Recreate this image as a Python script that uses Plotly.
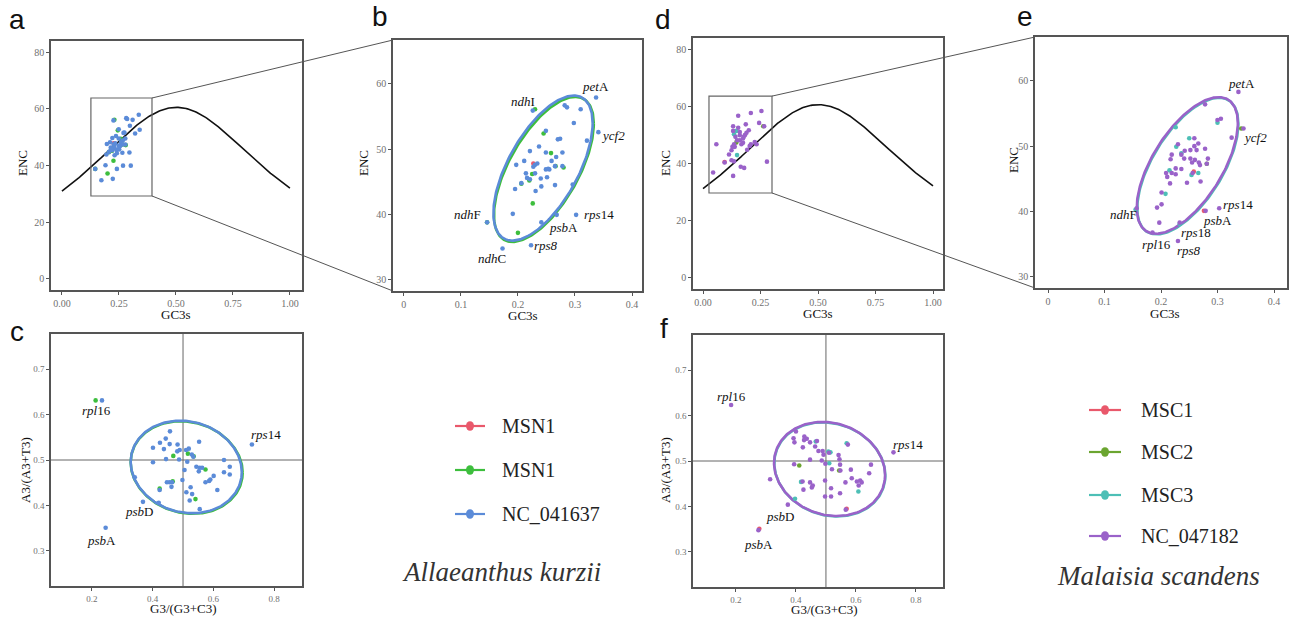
import numpy as np
import plotly.graph_objects as go

W, H = 1295, 618

# ============================ DATA ============================
# --- Allaeanthus kurzii : ENC vs GC3s (panels a and b) ---
ak_nc_gc3s = [0.337, 0.341, 0.302, 0.241, 0.223, 0.173, 0.146, 0.226, 0.191, 0.268,
              0.296, 0.321, 0.310, 0.298, 0.282, 0.286, 0.249, 0.237, 0.221, 0.274,
              0.249, 0.278, 0.267, 0.259, 0.278, 0.265, 0.255, 0.249, 0.227, 0.234,
              0.230, 0.211, 0.197, 0.214, 0.230, 0.240, 0.251, 0.221, 0.216, 0.206,
              0.195, 0.231, 0.241, 0.265, 0.253, 0.270]
ak_nc_enc = [57.9, 52.6, 39.95, 38.8, 35.3, 34.8, 38.8, 55.9, 40.1, 39.95,
             44.6, 51.3, 56.1, 54.0, 56.7, 56.4, 52.8, 50.4, 49.7, 51.6,
             49.5, 49.5, 48.8, 48.2, 47.4, 47.4, 46.9, 46.9, 47.3, 47.8,
             47.6, 48.2, 47.6, 46.3, 46.3, 45.5, 45.7, 45.4, 45.6, 44.8,
             43.9, 43.6, 44.3, 44.5, 47.0, 51.5]
ak_msn1b_gc3s = [0.230, 0.245, 0.258, 0.280, 0.225, 0.220, 0.206, 0.226, 0.200, 0.146, 0.266]
ak_msn1b_enc = [56.1, 52.4, 49.4, 47.2, 46.2, 45.2, 44.7, 41.7, 37.2, 38.8, 47.4]
ak_msn1a_gc3s = [0.227]
ak_msn1a_enc = [47.8]

# --- Allaeanthus kurzii : PR2 plot (panel c) ---
ak_nc_g3 = [0.233, 0.727, 0.245, 0.368, 0.420, 0.341, 0.401, 0.401, 0.424, 0.437,
            0.443, 0.457, 0.456, 0.482, 0.481, 0.489, 0.444, 0.487, 0.505, 0.498,
            0.447, 0.456, 0.464, 0.462, 0.423, 0.514, 0.519, 0.510, 0.529, 0.534,
            0.553, 0.544, 0.552, 0.555, 0.563, 0.511, 0.525, 0.530, 0.522, 0.555,
            0.574, 0.586, 0.601, 0.590, 0.613, 0.635, 0.635, 0.654, 0.654]
ak_nc_a3 = [0.631, 0.534, 0.351, 0.408, 0.406, 0.462, 0.527, 0.495, 0.538, 0.524,
            0.547, 0.563, 0.535, 0.534, 0.519, 0.522, 0.502, 0.501, 0.478, 0.456,
            0.451, 0.451, 0.451, 0.441, 0.434, 0.496, 0.525, 0.522, 0.512, 0.507,
            0.540, 0.485, 0.475, 0.483, 0.483, 0.429, 0.440, 0.425, 0.411, 0.392,
            0.451, 0.454, 0.465, 0.457, 0.434, 0.500, 0.473, 0.485, 0.468]
ak_msn1b_g3 = [0.212, 0.468, 0.466, 0.423, 0.516, 0.574, 0.541, 0.535]
ak_msn1b_a3 = [0.631, 0.509, 0.453, 0.437, 0.514, 0.479, 0.414, 0.508]

# --- Malaisia scandens : ENC vs GC3s overview (panel d) ---
ms_d_nc_gc3s = [0.044, 0.058, 0.094, 0.113, 0.131, 0.131, 0.131, 0.153, 0.141, 0.148,
                0.135, 0.128, 0.138, 0.124, 0.124, 0.135, 0.160, 0.160, 0.167, 0.174,
                0.182, 0.189, 0.199, 0.186, 0.164, 0.179, 0.203, 0.208, 0.225, 0.233,
                0.192, 0.208, 0.244, 0.254, 0.266, 0.278, 0.174, 0.160, 0.177, 0.153]
ms_d_nc_enc = [36.7, 46.6, 40.2, 43.0, 35.5, 52.9, 51.3, 56.6, 49.2, 48.0,
               46.6, 45.7, 45.7, 44.5, 41.0, 40.6, 49.8, 48.0, 46.6, 48.6,
               49.8, 50.6, 51.5, 53.6, 38.7, 38.3, 46.0, 46.6, 47.4, 46.6,
               44.7, 57.6, 54.1, 58.3, 52.9, 40.5, 47.1, 50.9, 49.2, 52.4]
ms_d_msc3_gc3s = [0.135, 0.145, 0.148]
ms_d_msc3_enc = [50.1, 51.3, 42.8]
ms_d_msc2_gc3s = [0.145, 0.262]
ms_d_msc2_enc = [47.2, 52.9]
ms_d_msc1_gc3s = [0.094]
ms_d_msc1_enc = [40.4]

# --- Malaisia scandens : ENC vs GC3s zoom (panel e) ---
ms_nc_gc3s = [0.337, 0.346, 0.303, 0.279, 0.230, 0.185, 0.157, 0.197, 0.201, 0.193,
              0.201, 0.216, 0.209, 0.219, 0.211, 0.226, 0.236, 0.226, 0.217, 0.219,
              0.230, 0.236, 0.242, 0.241, 0.252, 0.252, 0.259, 0.259, 0.263, 0.266,
              0.260, 0.255, 0.267, 0.269, 0.256, 0.246, 0.270, 0.278, 0.283, 0.281,
              0.300, 0.306, 0.325, 0.278, 0.233]
ms_nc_enc = [58.3, 52.7, 40.5, 40.1, 35.5, 36.8, 40.5, 38.3, 41.1, 40.6,
             42.9, 44.3, 45.9, 45.9, 45.3, 45.7, 46.5, 46.6, 48.0, 48.7,
             50.3, 48.7, 49.3, 48.1, 48.1, 49.4, 51.2, 50.0, 49.4, 50.4,
             47.9, 47.5, 47.5, 47.1, 45.9, 44.4, 44.6, 49.6, 48.1, 47.3,
             54.0, 54.2, 51.3, 56.4, 38.3]
ms_msc3_gc3s = [0.155, 0.208, 0.215, 0.227, 0.236, 0.250, 0.266, 0.300, 0.226, 0.233, 0.254]
ms_msc3_enc = [40.3, 42.7, 46.3, 49.9, 48.9, 51.2, 45.9, 53.6, 52.9, 38.1, 45.6]
ms_msc2_gc3s = [0.342, 0.281]
ms_msc2_enc = [52.7, 47.3]
ms_msc1_gc3s = [0.276, 0.258]
ms_msc1_enc = [40.1, 46.1]

# --- Malaisia scandens : PR2 plot (panel f) ---
ms_nc_g3 = [0.184, 0.725, 0.275, 0.373, 0.314, 0.400, 0.392, 0.395, 0.428, 0.436,
            0.447, 0.464, 0.475, 0.489, 0.492, 0.498, 0.486, 0.447, 0.394, 0.423,
            0.427, 0.422, 0.425, 0.447, 0.453, 0.456, 0.497, 0.497, 0.517, 0.517,
            0.520, 0.542, 0.545, 0.547, 0.548, 0.547, 0.565, 0.566, 0.573, 0.583,
            0.586, 0.603, 0.609, 0.614, 0.619, 0.644, 0.650, 0.510, 0.470]
ms_nc_a3 = [0.623, 0.519, 0.348, 0.404, 0.460, 0.565, 0.550, 0.541, 0.554, 0.549,
            0.541, 0.532, 0.522, 0.522, 0.514, 0.494, 0.501, 0.503, 0.493, 0.530,
            0.546, 0.455, 0.437, 0.453, 0.442, 0.446, 0.457, 0.422, 0.440, 0.422,
            0.482, 0.513, 0.504, 0.492, 0.479, 0.429, 0.453, 0.393, 0.536, 0.481,
            0.462, 0.455, 0.446, 0.457, 0.453, 0.473, 0.492, 0.518, 0.544]
ms_msc3_g3 = [0.397, 0.466, 0.508, 0.515, 0.511, 0.417, 0.569, 0.608]
ms_msc3_a3 = [0.417, 0.543, 0.521, 0.519, 0.495, 0.454, 0.539, 0.433]
ms_msc2_g3 = [0.411, 0.544]
ms_msc2_a3 = [0.490, 0.479]
ms_msc1_g3 = [0.278, 0.569]
ms_msc1_a3 = [0.351, 0.395]

# --- ellipse parameters: centre x, centre y, half-range x, half-range y, correlation ---
ell_b_nc = (0.244, 47.1, 0.087, 11.1, 0.62)
ell_b_msn1 = (0.2455, 46.9, 0.0875, 11.1, 0.63)
ell_c_nc = (0.5106, 0.4847, 0.183, 0.1018, -0.11)
ell_c_msn1 = (0.512, 0.4835, 0.1845, 0.1018, -0.11)
ell_e_nc = (0.2465, 47.05, 0.0895, 10.45, 0.62)
ell_e_msc3 = (0.2475, 46.95, 0.0895, 10.45, 0.62)
ell_f_nc = (0.512, 0.4825, 0.185, 0.1035, -0.13)
ell_f_msc3 = (0.513, 0.4815, 0.185, 0.1035, -0.13)

# --- legend labels and species ---
ak_series = ["MSN1", "MSN1", "NC_041637"]
ms_series = ["MSC1", "MSC2", "MSC3", "NC_047182"]
ak_species = "Allaeanthus kurzii"
ms_species = "Malaisia scandens"

# gene labels: (html text, x, y)
labels_b = [("<i>pet</i>A", 0.3356, 59.59), ("<i>ndh</i>I", 0.2093, 57.29),
            ("<i>ycf2</i>", 0.3672, 52.14), ("<i>rps</i>14", 0.3427, 39.96),
            ("<i>psb</i>A", 0.2795, 37.99), ("<i>rps8</i>", 0.2491, 35.22),
            ("<i>ndh</i>C", 0.1539, 33.28), ("<i>ndh</i>F", 0.1123, 40.08)]
labels_e = [("<i>pet</i>A", 0.3428, 59.66), ("<i>ycf2</i>", 0.3664, 51.39),
            ("<i>rps</i>14", 0.3370, 41.15), ("<i>psb</i>A", 0.2997, 38.7),
            ("<i>rps</i>18", 0.2615, 36.75), ("<i>rps8</i>", 0.2501, 34.0),
            ("<i>rpl</i>16", 0.1924, 35.02), ("<i>ndh</i>F", 0.1333, 39.51)]
labels_c = [("<i>rpl</i>16", 0.2155, 0.6084), ("<i>rps</i>14", 0.7737, 0.5571),
            ("<i>psb</i>D", 0.3559, 0.3864), ("<i>psb</i>A", 0.2320, 0.3226)]
labels_f = [("<i>rpl</i>16", 0.1857, 0.6429), ("<i>rps</i>14", 0.7723, 0.5352),
            ("<i>psb</i>D", 0.3467, 0.3769), ("<i>psb</i>A", 0.2767, 0.3169)]

# ============================ STYLE ============================
RED = "#E9586B"
GREEN_AK = "#3DBE3D"
BLUE = "#5B8BD8"
GREEN_MS = "#6BA530"
TEAL = "#4DBFB6"
PURPLE = "#9A62C9"
SERIF = "Liberation Serif"
SANS = "Liberation Sans"

# panel pixel boxes (left, top, right, bottom) and axis settings
P = {
    "a": dict(n=1, box=(51, 41, 302, 290), xr=[-0.048, 1.053], yr=[-3.9, 83.9],
              xt=[0, 0.25, 0.5, 0.75, 1.0], xtt=["0.00", "0.25", "0.50", "0.75", "1.00"],
              yt=[0, 20, 40, 60, 80], ytt=["0", "20", "40", "60", "80"]),
    "b": dict(n=2, box=(393, 40, 642, 291), xr=[-0.019, 0.4175], yr=[28.3, 66.7],
              xt=[0, 0.1, 0.2, 0.3, 0.4], xtt=["0", "0.1", "0.2", "0.3", "0.4"],
              yt=[30, 40, 50, 60], ytt=["30", "40", "50", "60"]),
    "c": dict(n=3, box=(51, 334, 302, 586), xr=[0.065, 0.892], yr=[0.223, 0.777],
              xt=[0.2, 0.4, 0.6, 0.8], xtt=["0.2", "0.4", "0.6", "0.8"],
              yt=[0.3, 0.4, 0.5, 0.6, 0.7], ytt=["0.3", "0.4", "0.5", "0.6", "0.7"]),
    "d": dict(n=4, box=(693, 38, 943, 289), xr=[-0.0435, 1.0435], yr=[-4.2, 83.9],
              xt=[0, 0.25, 0.5, 0.75, 1.0], xtt=["0.00", "0.25", "0.50", "0.75", "1.00"],
              yt=[0, 20, 40, 60, 80], ytt=["0", "20", "40", "60", "80"]),
    "e": dict(n=5, box=(1035, 37, 1287, 288), xr=[-0.023, 0.423], yr=[28.3, 66.7],
              xt=[0, 0.1, 0.2, 0.3, 0.4], xtt=["0", "0.1", "0.2", "0.3", "0.4"],
              yt=[30, 40, 50, 60], ytt=["30", "40", "50", "60"]),
    "f": dict(n=6, box=(693, 335, 943, 587), xr=[0.057, 0.89], yr=[0.223, 0.777],
              xt=[0.2, 0.4, 0.6, 0.8], xtt=["0.2", "0.4", "0.6", "0.8"],
              yt=[0.3, 0.4, 0.5, 0.6, 0.7], ytt=["0.3", "0.4", "0.5", "0.6", "0.7"]),
}


def ax(p):
    n = P[p]["n"]
    return ("x" if n == 1 else f"x{n}"), ("y" if n == 1 else f"y{n}")


def d2px(p, x, y):
    l, t, r, b = P[p]["box"]
    xr, yr = P[p]["xr"], P[p]["yr"]
    return (l + (x - xr[0]) / (xr[1] - xr[0]) * (r - l),
            b - (y - yr[0]) / (yr[1] - yr[0]) * (b - t))


def px2paper(px, py):
    return px / W, 1 - py / H


fig = go.Figure()


def add_points(p, xs, ys, color, size=4.6):
    xa, ya = ax(p)
    fig.add_trace(go.Scatter(x=xs, y=ys, mode="markers", xaxis=xa, yaxis=ya,
                             marker=dict(color=color, size=size, line=dict(width=0)),
                             showlegend=False, hoverinfo="skip"))


def add_ellipse(p, params, color, width=2.6):
    cx, cy, hx, hy, rho = params
    t = np.linspace(0, 2 * np.pi, 240)
    xs = cx + hx * np.cos(t)
    ys = cy + hy * (rho * np.cos(t) + np.sqrt(1 - rho ** 2) * np.sin(t))
    xa, ya = ax(p)
    fig.add_trace(go.Scatter(x=xs, y=ys, mode="lines", xaxis=xa, yaxis=ya,
                             line=dict(color=color, width=width),
                             showlegend=False, hoverinfo="skip"))


def add_expected(p):
    s = np.linspace(0, 1, 201)
    enc = 2 + s + 29 / (s ** 2 + (1 - s) ** 2)
    xa, ya = ax(p)
    fig.add_trace(go.Scatter(x=s, y=enc, mode="lines", xaxis=xa, yaxis=ya,
                             line=dict(color="#111111", width=1.6),
                             showlegend=False, hoverinfo="skip"))


# ---- panel a ----
add_expected("a")
add_points("a", ak_msn1a_gc3s, ak_msn1a_enc, RED)
add_points("a", ak_msn1b_gc3s, ak_msn1b_enc, GREEN_AK)
add_points("a", ak_nc_gc3s, ak_nc_enc, BLUE)
# ---- panel b ----
add_ellipse("b", ell_b_msn1, GREEN_AK)
add_ellipse("b", ell_b_nc, BLUE)
add_points("b", ak_msn1a_gc3s, ak_msn1a_enc, RED)
add_points("b", ak_msn1b_gc3s, ak_msn1b_enc, GREEN_AK)
add_points("b", ak_nc_gc3s, ak_nc_enc, BLUE)
# ---- panel c ----
add_ellipse("c", ell_c_msn1, GREEN_AK)
add_ellipse("c", ell_c_nc, BLUE)
add_points("c", ak_msn1b_g3, ak_msn1b_a3, GREEN_AK)
add_points("c", ak_nc_g3, ak_nc_a3, BLUE)
# ---- panel d ----
add_expected("d")
add_points("d", ms_d_msc1_gc3s, ms_d_msc1_enc, RED)
add_points("d", ms_d_msc2_gc3s, ms_d_msc2_enc, GREEN_MS)
add_points("d", ms_d_msc3_gc3s, ms_d_msc3_enc, TEAL)
add_points("d", ms_d_nc_gc3s, ms_d_nc_enc, PURPLE)
# ---- panel e ----
add_ellipse("e", ell_e_msc3, TEAL)
add_ellipse("e", ell_e_nc, PURPLE)
add_points("e", ms_msc1_gc3s, ms_msc1_enc, RED)
add_points("e", ms_msc2_gc3s, ms_msc2_enc, GREEN_MS)
add_points("e", ms_msc3_gc3s, ms_msc3_enc, TEAL)
add_points("e", ms_nc_gc3s, ms_nc_enc, PURPLE)
# ---- panel f ----
add_ellipse("f", ell_f_msc3, TEAL)
add_ellipse("f", ell_f_nc, PURPLE)
add_points("f", ms_msc1_g3, ms_msc1_a3, RED)
add_points("f", ms_msc2_g3, ms_msc2_a3, GREEN_MS)
add_points("f", ms_msc3_g3, ms_msc3_a3, TEAL)
add_points("f", ms_nc_g3, ms_nc_a3, PURPLE)

# ---- axes ----
layout = dict(width=W, height=H, margin=dict(l=0, r=0, t=0, b=0),
              paper_bgcolor="white", plot_bgcolor="white", showlegend=False)
for p, spec in P.items():
    n = spec["n"]
    l, t, r, b = spec["box"]
    common = dict(showline=True, mirror=True, linecolor="#555555", linewidth=1.5,
                  ticks="outside", ticklen=3, tickwidth=1, tickcolor="#555555",
                  tickfont=dict(family=SERIF, size=10 if p in "abde" else 9, color="#707070"),
                  showgrid=False, zeroline=False, automargin=False, fixedrange=True)
    xk = "xaxis" if n == 1 else f"xaxis{n}"
    yk = "yaxis" if n == 1 else f"yaxis{n}"
    xa, ya = ax(p)
    layout[xk] = dict(domain=[l / W, r / W], range=spec["xr"], anchor=ya,
                      tickvals=spec["xt"], ticktext=spec["xtt"], **common)
    layout[yk] = dict(domain=[1 - b / H, 1 - t / H], range=spec["yr"], anchor=xa,
                      tickvals=spec["yt"], ticktext=spec["ytt"], **common)
fig.update_layout(**layout)

shapes = []
annots = []

# crosshairs in PR2 panels
for p in ("c", "f"):
    xa, ya = ax(p)
    shapes.append(dict(type="line", xref=xa, yref=f"{ya} domain", x0=0.5, x1=0.5, y0=0, y1=1,
                       line=dict(color="#666666", width=1), layer="below"))
    shapes.append(dict(type="line", xref=f"{xa} domain", yref=ya, x0=0, x1=1, y0=0.5, y1=0.5,
                       line=dict(color="#666666", width=1), layer="below"))

# zoom rectangles and connectors
zoom_boxes = {"a": ("b", (0.127, 29.25, 0.395, 63.8)), "d": ("e", (0.026, 29.5, 0.30, 63.5))}
for src, (dst, (x0, y0, x1, y1)) in zoom_boxes.items():
    xa, ya = ax(src)
    shapes.append(dict(type="rect", xref=xa, yref=ya, x0=x0, x1=x1, y0=y0, y1=y1,
                       line=dict(color="#666666", width=1.2)))
    trx, try_ = d2px(src, x1, y1)
    brx, bry = d2px(src, x1, y0)
    l, t, r, b = P[dst]["box"]
    for (sx, sy), (ex, ey) in (((trx, try_), (l, t)), ((brx, bry), (l, b))):
        a0 = px2paper(sx, sy)
        a1 = px2paper(ex, ey)
        shapes.append(dict(type="line", xref="paper", yref="paper", x0=a0[0], y0=a0[1],
                           x1=a1[0], y1=a1[1], line=dict(color="#555555", width=1)))

# gene labels
for p, labs in (("b", labels_b), ("e", labels_e), ("c", labels_c), ("f", labels_f)):
    xa, ya = ax(p)
    for txt, x, y in labs:
        annots.append(dict(text=txt, x=x, y=y, xref=xa, yref=ya, showarrow=False,
                           font=dict(family=SERIF, size=13, color="#111111")))

# axis titles (pixel centres)
titles = [
    ("GC3s", 176, 314, 0), ("ENC", 22, 163, -90),
    ("GC3s", 523, 315, 0), ("ENC", 363, 163, -90),
    ("G3/(G3+C3)", 183, 608, 0), ("A3/(A3+T3)", 25, 470, -90),
    ("GC3s", 818, 313, 0), ("ENC", 665, 163, -90),
    ("GC3s", 1165, 313, 0), ("ENC", 1013, 160, -90),
    ("G3/(G3+C3)", 825, 609, 0), ("A3/(A3+T3)", 665, 470, -90),
]
for txt, px, py, ang in titles:
    xp, yp = px2paper(px, py)
    annots.append(dict(text=txt, x=xp, y=yp, xref="paper", yref="paper", showarrow=False,
                       textangle=ang, xanchor="center", yanchor="middle",
                       font=dict(family=SERIF, size=13, color="#111111")))

# panel letters
for txt, px, py in (("a", 17, 19), ("b", 380, 17), ("c", 17, 331),
                    ("d", 663, 19), ("e", 1025, 17), ("f", 664, 329)):
    xp, yp = px2paper(px, py)
    annots.append(dict(text=txt, x=xp, y=yp, xref="paper", yref="paper", showarrow=False,
                       xanchor="center", yanchor="middle",
                       font=dict(family=SANS, size=28, color="#111111")))


# custom legends
def add_legend(names, colors, x_line0, x_line1, ys, x_text):
    for name, col, y in zip(names, colors, ys):
        a0 = px2paper(x_line0, y)
        a1 = px2paper(x_line1, y)
        shapes.append(dict(type="line", xref="paper", yref="paper", x0=a0[0], y0=a0[1],
                           x1=a1[0], y1=a1[1], line=dict(color=col, width=2.2)))
        xc = (x_line0 + x_line1) / 2
        c0 = px2paper(xc - 4, y - 4.8)
        c1 = px2paper(xc + 4, y + 4.8)
        shapes.append(dict(type="circle", xref="paper", yref="paper", x0=c0[0], y0=c1[1],
                           x1=c1[0], y1=c0[1], fillcolor=col, line=dict(color=col, width=0)))
        tp = px2paper(x_text, y)
        annots.append(dict(text=name, x=tp[0], y=tp[1], xref="paper", yref="paper",
                           showarrow=False, xanchor="left", yanchor="middle",
                           font=dict(family=SERIF, size=20, color="#222222")))


add_legend(ak_series, [RED, GREEN_AK, BLUE], 455, 485, [426, 470, 514], 500)
add_legend(ms_series, [RED, GREEN_MS, TEAL, PURPLE], 1089, 1121, [410, 452, 495, 536], 1139)

for txt, px, py in ((ak_species, 501, 572), (ms_species, 1158, 576)):
    xp, yp = px2paper(px, py)
    annots.append(dict(text=f"<i>{txt}</i>", x=xp, y=yp, xref="paper", yref="paper",
                       showarrow=False, xanchor="center", yanchor="middle",
                       font=dict(family=SERIF, size=27, color="#333333")))

fig.update_layout(shapes=shapes, annotations=annots)
fig.write_html("out.html", config={"displayModeBar": False},
               post_script="document.body.style.margin='0px';")
